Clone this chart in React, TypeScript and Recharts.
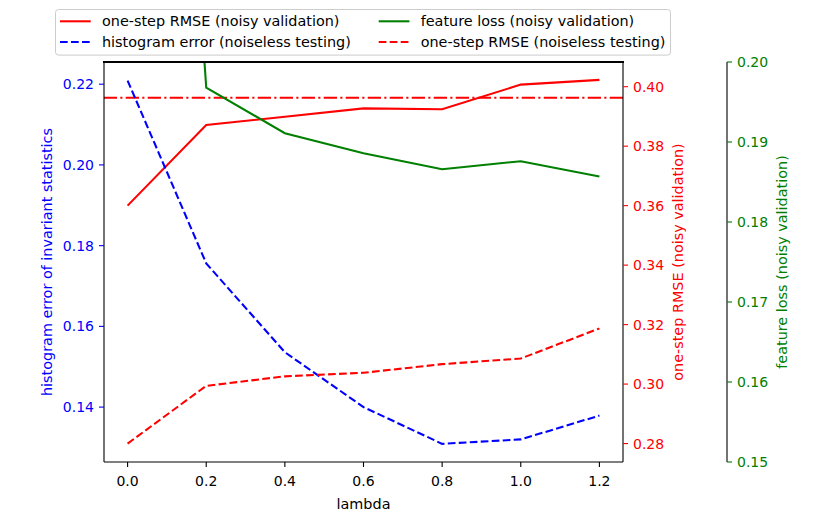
import { LineChart, Line, XAxis, YAxis, ReferenceLine } from 'recharts';

// x values (lambda)
const lambdas = [0.0, 0.2, 0.4, 0.6, 0.8, 1.0, 1.2];

// series values
const histError = [0.2209, 0.1756, 0.1536, 0.14, 0.1309, 0.132, 0.1379];
const rmseNoisy = [0.36, 0.3871, 0.3899, 0.3927, 0.3924, 0.4007, 0.4023];
const rmseNoiseless = [0.28, 0.2994, 0.3026, 0.3038, 0.3067, 0.3086, 0.3187];
const featureLoss = [0.34, 0.1968, 0.1911, 0.1886, 0.1866, 0.1876, 0.1857];

// horizontal reference (dash-dot)
const rmseBaseline = 0.3963;

// tick labels
const xTicks = [0.0, 0.2, 0.4, 0.6, 0.8, 1.0, 1.2];
const histTicks = [0.14, 0.16, 0.18, 0.2, 0.22];
const rmseTicks = [0.28, 0.3, 0.32, 0.34, 0.36, 0.38, 0.4];
const lossTicks = [0.15, 0.16, 0.17, 0.18, 0.19, 0.2];

const xDomain = [-0.06, 1.26];

const data = lambdas.map((lambda, i) => ({
  lambda,
  histError: histError[i],
  rmseNoisy: rmseNoisy[i],
  rmseNoiseless: rmseNoiseless[i],
  featureLoss: featureLoss[i],
}));

const FONT = 14;
const LABEL_FONT = 14.4;
const LW = 2.08;
const DASH = '7.7 3.3';

// chart margins / axis widths, the frame overlay uses the same numbers
const TOP = 62;
const LEFT_W = 104;
const RIGHT_W1 = 104;
const RIGHT_W2 = 103;

// legend entries in column-major order as matplotlib lays them out
const legendItems = [
  { name: 'one-step RMSE (noisy validation)', color: '#ff0000', dash: undefined, col: 0, row: 0 },
  { name: 'histogram error (noiseless testing)', color: '#0000ff', dash: DASH, col: 0, row: 1 },
  { name: 'feature loss (noisy validation)', color: '#008000', dash: undefined, col: 1, row: 0 },
  { name: 'one-step RMSE (noiseless testing)', color: '#ff0000', dash: DASH, col: 1, row: 1 },
];

const LegendBox = () => {
  const colX = [5, 323.7];
  const rowY = [12.3, 33];
  return (
    <svg width={617} height={48} style={{ position: 'absolute', left: 55, top: 9 }}>
      <rect x={0.5} y={0.5} width={615} height={45.6} rx={3} fill="#fff" fillOpacity={0.8} stroke="#cccccc" strokeWidth={1} />
      {legendItems.map((it) => (
        <g key={it.name}>
          <line
            x1={colX[it.col]}
            x2={colX[it.col] + 30.7}
            y1={rowY[it.row]}
            y2={rowY[it.row]}
            stroke={it.color}
            strokeWidth={LW}
            strokeDasharray={it.dash}
          />
          <text x={colX[it.col] + 42} y={rowY[it.row] + 5} fontSize={LABEL_FONT} fill="#000">
            {it.name}
          </text>
        </g>
      ))}
    </svg>
  );
};

export default function App() {
  return (
    <div
      style={{
        position: 'absolute',
        left: 0,
        top: 0,
        width: 830,
        height: 519,
        background: '#fff',
        fontFamily: '"DejaVu Sans", sans-serif',
      }}
    >
      <LineChart width={830} height={519} data={data} margin={{ top: TOP, right: 0, bottom: 0, left: 0 }}>
        <XAxis
          dataKey="lambda"
          type="number"
          domain={xDomain}
          ticks={xTicks}
          interval={0}
          tickFormatter={(v: number) => v.toFixed(1)}
          height={57}
          stroke="#000"
          axisLine={{ stroke: '#000', strokeWidth: 1.1 }}
          tickLine={{ stroke: '#000', strokeWidth: 1.1 }}
          tickSize={5}
          tickMargin={9}
          tick={{ fill: '#000', fontSize: FONT }}
          label={{ value: 'lambda', position: 'insideBottom', offset: 10, fill: '#000', fontSize: LABEL_FONT }}
        />
        <YAxis
          yAxisId="l0"
          orientation="left"
          width={LEFT_W}
          type="number"
          domain={[0.1264, 0.2255]}
          ticks={histTicks}
          interval={0}
          tickFormatter={(v: number) => v.toFixed(2)}
          axisLine={{ stroke: '#000', strokeWidth: 1.1 }}
          tickLine={{ stroke: '#0000ff', strokeWidth: 1.1 }}
          tickSize={5}
          tickMargin={5}
          tick={{ fill: '#0000ff', fontSize: FONT }}
          label={{
            value: 'histogram error of invariant statistics',
            angle: -90,
            position: 'center',
            dx: -5,
            fill: '#0000ff',
            fontSize: LABEL_FONT,
          }}
        />
        <YAxis
          yAxisId="r1"
          orientation="right"
          width={RIGHT_W1}
          type="number"
          domain={[0.2738, 0.4083]}
          ticks={rmseTicks}
          interval={0}
          tickFormatter={(v: number) => v.toFixed(2)}
          axisLine={{ stroke: '#000', strokeWidth: 1.1 }}
          tickLine={{ stroke: '#ff0000', strokeWidth: 1.1 }}
          tickSize={5}
          tickMargin={5}
          tick={{ fill: '#ff0000', fontSize: FONT }}
          label={{
            value: 'one-step RMSE (noisy validation)',
            angle: -90,
            position: 'center',
            dx: 3,
            fill: '#ff0000',
            fontSize: LABEL_FONT,
          }}
        />
        <YAxis
          yAxisId="r2"
          orientation="right"
          width={RIGHT_W2}
          type="number"
          domain={[0.15, 0.2]}
          allowDataOverflow
          ticks={lossTicks}
          interval={0}
          tickFormatter={(v: number) => v.toFixed(2)}
          axisLine={{ stroke: '#000', strokeWidth: 1.1 }}
          tickLine={{ stroke: '#008000', strokeWidth: 1.1 }}
          tickSize={5}
          tickMargin={5}
          tick={{ fill: '#008000', fontSize: FONT }}
          label={{
            value: 'feature loss (noisy validation)',
            angle: -90,
            position: 'center',
            dx: 3,
            fill: '#008000',
            fontSize: LABEL_FONT,
          }}
        />
        <ReferenceLine
          yAxisId="r1"
          y={rmseBaseline}
          stroke="#ff0000"
          strokeWidth={LW}
          strokeDasharray="13.3 3.3 2.1 3.3"
        />
        <Line
          yAxisId="r1"
          dataKey="rmseNoisy"
          stroke="#ff0000"
          strokeWidth={LW}
          dot={false}
          activeDot={false}
          isAnimationActive={false}
        />
        <Line
          yAxisId="l0"
          dataKey="histError"
          stroke="#0000ff"
          strokeWidth={LW}
          strokeDasharray={DASH}
          dot={false}
          activeDot={false}
          isAnimationActive={false}
        />
        <Line
          yAxisId="r2"
          dataKey="featureLoss"
          stroke="#008000"
          strokeWidth={LW}
          dot={false}
          activeDot={false}
          isAnimationActive={false}
        />
        <Line
          yAxisId="r1"
          dataKey="rmseNoiseless"
          stroke="#ff0000"
          strokeWidth={LW}
          strokeDasharray={DASH}
          dot={false}
          activeDot={false}
          isAnimationActive={false}
        />
      </LineChart>
      {/* top spine of the axes frame */}
      <div
        style={{
          position: 'absolute',
          left: LEFT_W - 0.55,
          top: TOP - 0.55,
          width: 830 - LEFT_W - RIGHT_W1 - RIGHT_W2 + 1.1,
          height: 1.1,
          background: '#000',
        }}
      />
      <LegendBox />
    </div>
  );
}
